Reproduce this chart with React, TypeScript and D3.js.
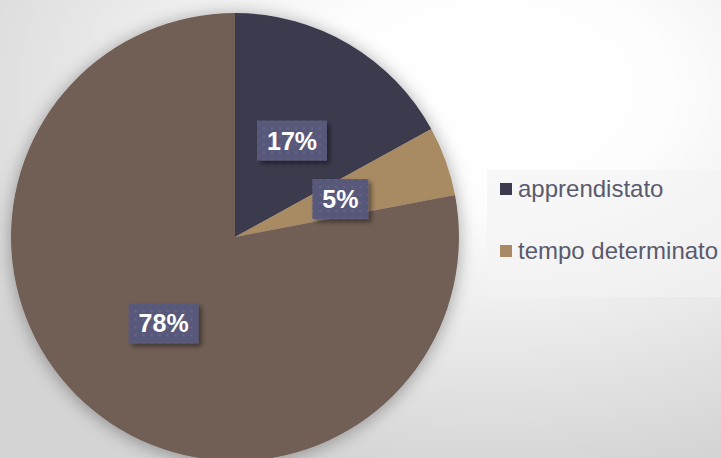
import React from 'react';
import * as d3 from 'd3';

// chart data
const categories = ['apprendistato', 'tempo determinato', 'tempo indeterminato'];
const values = [17, 5, 78];
const colors = ['#3b3a4e', '#a88b64', '#715f54'];
// the reference legend box only has room for the first two entries
const legendShown = categories.slice(0, 2);

const W = 721;
const H = 458;

const App = () => {
  const cx = 235;
  const cy = 237;
  const radius = 224;

  const total = d3.sum(values);
  const pie = d3.pie<number>().sort(null).value((d) => d);
  const arcs = pie(values);
  const arc = d3.arc<d3.PieArcDatum<number>>().innerRadius(0).outerRadius(radius);

  const color = d3.scaleOrdinal<string, string>().domain(categories).range(colors);

  // legend layout
  const legendY = d3.scalePoint<string>().domain(legendShown).range([189, 251]);
  const lbox = { x: 487, y: 170, w: 240, h: 127 };

  return (
    <svg width={W} height={H} style={{ position: 'absolute', left: 0, top: 0 }} fontFamily="Arial, 'Liberation Sans', sans-serif">
      <defs>
        <radialGradient id="bg" cx="0.68" cy="0.2" r="0.85" gradientUnits="objectBoundingBox">
          <stop offset="0" stopColor="#ffffff" />
          <stop offset="0.3" stopColor="#fdfdfd" />
          <stop offset="1" stopColor="#d4d4d4" />
        </radialGradient>
        <filter id="pieShadow" x="-20%" y="-20%" width="140%" height="140%">
          <feGaussianBlur in="SourceAlpha" stdDeviation="9" />
          <feOffset dx="0" dy="2" result="b" />
          <feComponentTransfer>
            <feFuncA type="linear" slope="0.35" />
          </feComponentTransfer>
          <feMerge>
            <feMergeNode />
            <feMergeNode in="SourceGraphic" />
          </feMerge>
        </filter>
        <filter id="boxShadow" x="-30%" y="-30%" width="160%" height="160%">
          <feGaussianBlur in="SourceAlpha" stdDeviation="2.5" />
          <feOffset dx="3" dy="3" />
          <feComponentTransfer>
            <feFuncA type="linear" slope="0.45" />
          </feComponentTransfer>
          <feMerge>
            <feMergeNode />
            <feMergeNode in="SourceGraphic" />
          </feMerge>
        </filter>
        <pattern id="dots" width="8" height="8" patternUnits="userSpaceOnUse">
          <rect width="8" height="8" fill="#59597a" />
          <rect x="3" y="3" width="2" height="2" fill="#66668a" />
        </pattern>
      </defs>

      <rect width={W} height={H} fill="url(#bg)" />

      <g transform={`translate(${cx},${cy})`} filter="url(#pieShadow)">
        {arcs.map((a, i) => (
          <path key={i} d={arc(a) || ''} fill={color(categories[i])} />
        ))}
      </g>

      <g transform={`translate(${cx},${cy})`}>
        {arcs.map((a, i) => {
          const [x, y] = arc.centroid(a);
          const txt = `${Math.round((values[i] / total) * 100)}%`;
          const w = txt.length === 2 ? 56 : 70;
          return (
            <g key={i} transform={`translate(${x},${y})`}>
              <rect x={-w / 2} y={-20} width={w} height={40} fill="url(#dots)" filter="url(#boxShadow)" />
              <text textAnchor="middle" dy="0.36em" fill="#ffffff" fontWeight="bold" fontSize={25}>
                {txt}
              </text>
            </g>
          );
        })}
      </g>

      <rect x={lbox.x} y={lbox.y} width={lbox.w} height={lbox.h} fill="#f4f4f4" opacity={0.6} />
      {legendShown.map((c) => (
        <g key={c} transform={`translate(500,${legendY(c)})`}>
          <rect x={0} y={-6} width={12} height={12} fill={color(c)} />
          <text x={18} y={0} dy="0.35em" fontSize={24} fill="#5a5a6e">
            {c}
          </text>
        </g>
      ))}
    </svg>
  );
};

export default App;
